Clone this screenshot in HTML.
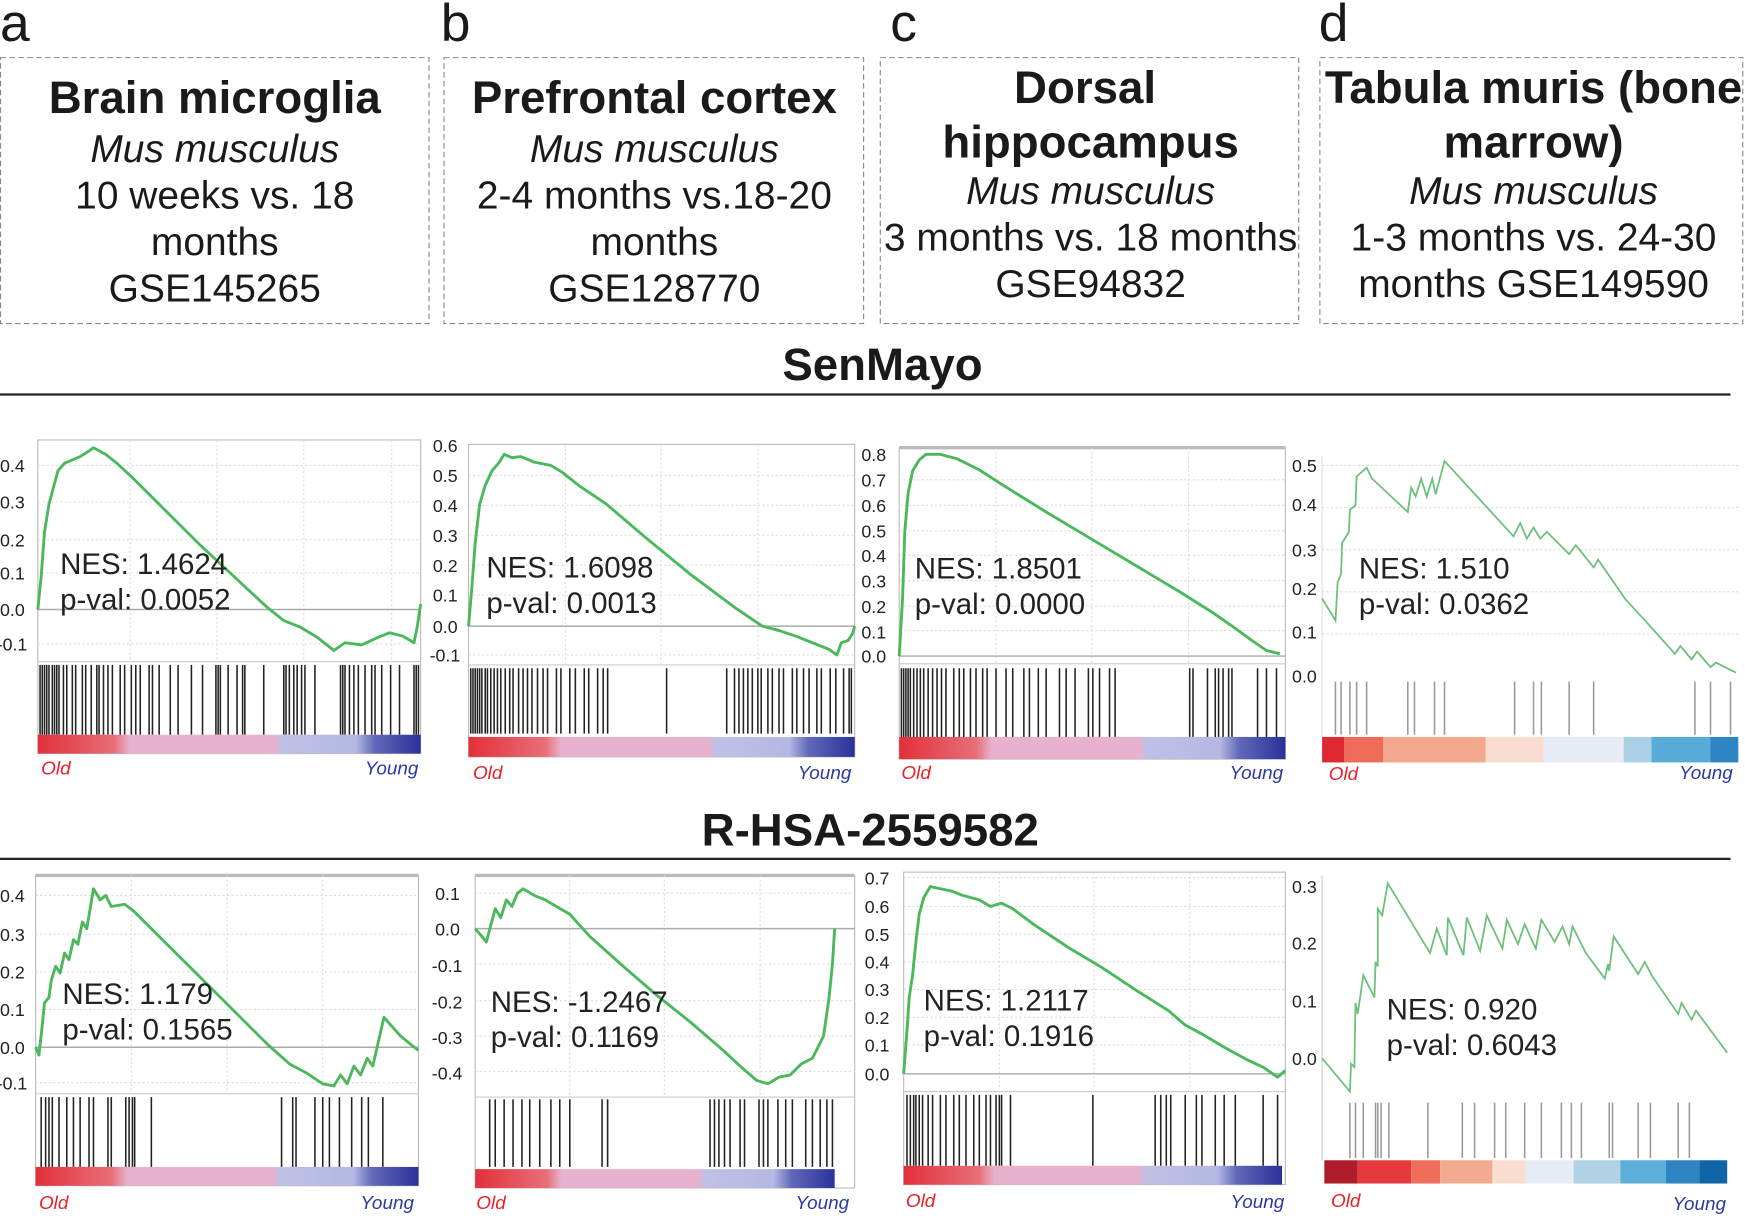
<!DOCTYPE html>
<html><head><meta charset="utf-8"><style>
html,body{margin:0;padding:0;background:#fff;}
svg{display:block;font-family:"Liberation Sans",Arial,sans-serif;}
.t{font-size:41px;font-weight:bold;text-anchor:middle;fill:#1a1a1a}
.i{font-size:35px;font-style:italic;text-anchor:middle;fill:#1a1a1a}
.n{font-size:35px;text-anchor:middle;fill:#1a1a1a}
.tk{font-size:16px;fill:#222}
.ann{font-size:26.5px;fill:#222}
.old{font-size:17px;font-style:italic;fill:#e8202a}
.yg{font-size:17px;font-style:italic;fill:#2a3aa0;text-anchor:end}
.cv{fill:none;stroke:#4cb85c;stroke-width:2.6;stroke-linejoin:round}
.cvd{fill:none;stroke:#6cc17a;stroke-width:1.6}
.fr{fill:none;stroke:#bbb;stroke-width:1}
.grid{stroke:#ddd;stroke-width:1;stroke-dasharray:2 2}
.z{stroke:#aaa;stroke-width:1.3}
.gb line{stroke:#222;stroke-width:1.4}
.gd line{stroke:#999;stroke-width:1.4}
</style></head><body>
<svg width="1745" height="1219" viewBox="0 0 1568 1100" preserveAspectRatio="none" xmlns="http://www.w3.org/2000/svg">
<defs>
<linearGradient id="g1" x1="0" x2="1">
<stop offset="0" stop-color="#e2303a"/><stop offset="0.2" stop-color="#e86f78"/><stop offset="0.24" stop-color="#e8b2cf"/><stop offset="0.62" stop-color="#e8b2cf"/><stop offset="0.64" stop-color="#bfc1e6"/><stop offset="0.83" stop-color="#b4b8e2"/><stop offset="0.88" stop-color="#6268b8"/><stop offset="1" stop-color="#28329a"/>
</linearGradient>
</defs>
<text x="0" y="37" style="font-size:48px" fill="#1a1a1a">a</text>
<text x="396" y="37" style="font-size:48px" fill="#1a1a1a">b</text>
<text x="800" y="37" style="font-size:48px" fill="#1a1a1a">c</text>
<text x="1185" y="37" style="font-size:48px" fill="#1a1a1a">d</text>
<g fill="none" stroke="#888" stroke-width="1" stroke-dasharray="5 3">
<rect x="0.5" y="52" width="385" height="240"/>
<rect x="399" y="52" width="377" height="240"/>
<rect x="791" y="52" width="376" height="240"/>
<rect x="1186" y="52" width="380" height="240"/>
</g>
<text class="t" x="193" y="102">Brain microglia</text>
<text class="i" x="193" y="146">Mus musculus</text>
<text class="n" x="193" y="188">10 weeks vs. 18</text>
<text class="n" x="193" y="230">months</text>
<text class="n" x="193" y="272">GSE145265</text>
<text class="t" x="588" y="102">Prefrontal cortex</text>
<text class="i" x="588" y="146">Mus musculus</text>
<text class="n" x="588" y="188">2-4 months vs.18-20</text>
<text class="n" x="588" y="230">months</text>
<text class="n" x="588" y="272">GSE128770</text>
<text class="t" x="975" y="93">Dorsal</text>
<text class="t" x="980" y="142">hippocampus</text>
<text class="i" x="980" y="184">Mus musculus</text>
<text class="n" x="980" y="226">3 months vs. 18 months</text>
<text class="n" x="980" y="268">GSE94832</text>
<text class="t" x="1378" y="93">Tabula muris (bone</text>
<text class="t" x="1378" y="142">marrow)</text>
<text class="i" x="1378" y="184">Mus musculus</text>
<text class="n" x="1378" y="226">1-3 months vs. 24-30</text>
<text class="n" x="1378" y="268">months GSE149590</text>

<text class="t" x="793" y="343">SenMayo</text>
<line x1="0" y1="356" x2="1555" y2="356" stroke="#222" stroke-width="2"/>
<text class="t" x="782" y="763">R-HSA-2559582</text>
<line x1="0" y1="775" x2="1555" y2="775" stroke="#222" stroke-width="2"/>

<!-- Row1 a -->
<g>
<rect class="fr" x="34" y="397" width="344" height="283"/>
<g class="grid"><line x1="34" y1="420" x2="378" y2="420"/><line x1="34" y1="453" x2="378" y2="453"/><line x1="34" y1="487" x2="378" y2="487"/><line x1="34" y1="517" x2="378" y2="517"/><line x1="34" y1="581" x2="378" y2="581"/><line x1="117" y1="397" x2="117" y2="597"/><line x1="195" y1="397" x2="195" y2="597"/><line x1="273" y1="397" x2="273" y2="597"/><line x1="352" y1="397" x2="352" y2="597"/></g>
<line class="z" x1="34" y1="550" x2="378" y2="550"/>
<line x1="34" y1="597" x2="378" y2="597" stroke="#ccc"/>
<g class="tk"><text x="0" y="426">0.4</text><text x="0" y="459">0.3</text><text x="0" y="493">0.2</text><text x="0" y="523">0.1</text><text x="0" y="556">0.0</text><text x="-3" y="587">-0.1</text></g>
<polyline class="cv" points="34,550 37,520 40,480 44,455 48,440 52,425 58,418 65,415 72,412 80,407 84,404 95,410 105,418 120,432 150,462 180,492 210,520 240,548 255,560 270,566 285,575 300,587 310,580 325,582 340,575 350,571 362,574 372,580 375,565 378,545"/>
<g class="gb">
<line x1="36" y1="600" x2="36" y2="663"/><line x1="38" y1="600" x2="38" y2="663"/><line x1="40" y1="600" x2="40" y2="663"/><line x1="42" y1="600" x2="42" y2="663"/><line x1="44" y1="600" x2="44" y2="663"/><line x1="47" y1="600" x2="47" y2="663"/><line x1="49" y1="600" x2="49" y2="663"/><line x1="51" y1="600" x2="51" y2="663"/><line x1="53" y1="600" x2="53" y2="663"/><line x1="57" y1="600" x2="57" y2="663"/><line x1="60" y1="600" x2="60" y2="663"/><line x1="65" y1="600" x2="65" y2="663"/><line x1="68" y1="600" x2="68" y2="663"/><line x1="74" y1="600" x2="74" y2="663"/><line x1="77" y1="600" x2="77" y2="663"/><line x1="82" y1="600" x2="82" y2="663"/><line x1="87" y1="600" x2="87" y2="663"/><line x1="89" y1="600" x2="89" y2="663"/><line x1="93" y1="600" x2="93" y2="663"/><line x1="97" y1="600" x2="97" y2="663"/><line x1="101" y1="600" x2="101" y2="663"/><line x1="108" y1="600" x2="108" y2="663"/><line x1="112" y1="600" x2="112" y2="663"/><line x1="118" y1="600" x2="118" y2="663"/><line x1="122" y1="600" x2="122" y2="663"/><line x1="126" y1="600" x2="126" y2="663"/><line x1="134" y1="600" x2="134" y2="663"/><line x1="137" y1="600" x2="137" y2="663"/><line x1="143" y1="600" x2="143" y2="663"/><line x1="153" y1="600" x2="153" y2="663"/><line x1="160" y1="600" x2="160" y2="663"/><line x1="172" y1="600" x2="172" y2="663"/><line x1="182" y1="600" x2="182" y2="663"/><line x1="194" y1="600" x2="194" y2="663"/><line x1="196" y1="600" x2="196" y2="663"/><line x1="198" y1="600" x2="198" y2="663"/><line x1="205" y1="600" x2="205" y2="663"/><line x1="213" y1="600" x2="213" y2="663"/><line x1="218" y1="600" x2="218" y2="663"/><line x1="220" y1="600" x2="220" y2="663"/><line x1="237" y1="600" x2="237" y2="663"/><line x1="255" y1="600" x2="255" y2="663"/><line x1="257" y1="600" x2="257" y2="663"/><line x1="260" y1="600" x2="260" y2="663"/><line x1="264" y1="600" x2="264" y2="663"/><line x1="267" y1="600" x2="267" y2="663"/><line x1="271" y1="600" x2="271" y2="663"/><line x1="274" y1="600" x2="274" y2="663"/><line x1="283" y1="600" x2="283" y2="663"/><line x1="306" y1="600" x2="306" y2="663"/><line x1="308" y1="600" x2="308" y2="663"/><line x1="310" y1="600" x2="310" y2="663"/><line x1="314" y1="600" x2="314" y2="663"/><line x1="318" y1="600" x2="318" y2="663"/><line x1="322" y1="600" x2="322" y2="663"/><line x1="328" y1="600" x2="328" y2="663"/><line x1="334" y1="600" x2="334" y2="663"/><line x1="337" y1="600" x2="337" y2="663"/><line x1="343" y1="600" x2="343" y2="663"/><line x1="351" y1="600" x2="351" y2="663"/><line x1="359" y1="600" x2="359" y2="663"/><line x1="372" y1="600" x2="372" y2="663"/><line x1="374" y1="600" x2="374" y2="663"/><line x1="376" y1="600" x2="376" y2="663"/>
</g>
<rect x="34" y="663" width="344" height="17" fill="url(#g1)"/>
<text class="old" x="37" y="699">Old</text><text class="yg" x="376" y="699">Young</text>
<text class="ann" x="54" y="518">NES: 1.4624</text><text class="ann" x="54" y="550">p-val: 0.0052</text>
</g>

<!-- Row1 b -->
<g>
<rect class="fr" x="421" y="401" width="347" height="282"/>
<g class="grid"><line x1="421" y1="429" x2="768" y2="429"/><line x1="421" y1="456" x2="768" y2="456"/><line x1="421" y1="483" x2="768" y2="483"/><line x1="421" y1="510" x2="768" y2="510"/><line x1="421" y1="537" x2="768" y2="537"/><line x1="421" y1="591" x2="768" y2="591"/><line x1="508" y1="401" x2="508" y2="600"/><line x1="594" y1="401" x2="594" y2="600"/><line x1="681" y1="401" x2="681" y2="600"/></g>
<line class="z" x1="421" y1="565" x2="768" y2="565"/>
<line x1="421" y1="600" x2="768" y2="600" stroke="#ccc"/>
<g class="tk"><text x="389" y="408">0.6</text><text x="389" y="435">0.5</text><text x="389" y="462">0.4</text><text x="389" y="489">0.3</text><text x="389" y="516">0.2</text><text x="389" y="543">0.1</text><text x="389" y="571">0.0</text><text x="386" y="597">-0.1</text></g>
<polyline class="cv" points="421,565 424,530 427,490 431,455 436,438 442,425 448,418 453,410 460,413 468,412 480,417 495,420 505,426 520,438 545,455 580,485 620,518 660,548 685,565 700,569 715,574 730,580 745,586 752,591 756,580 762,578 766,572 768,565"/>
<g class="gb">
<line x1="423" y1="603" x2="423" y2="662"/><line x1="425" y1="603" x2="425" y2="662"/><line x1="427" y1="603" x2="427" y2="662"/><line x1="429" y1="603" x2="429" y2="662"/><line x1="431" y1="603" x2="431" y2="662"/><line x1="433" y1="603" x2="433" y2="662"/><line x1="436" y1="603" x2="436" y2="662"/><line x1="438" y1="603" x2="438" y2="662"/><line x1="441" y1="603" x2="441" y2="662"/><line x1="444" y1="603" x2="444" y2="662"/><line x1="447" y1="603" x2="447" y2="662"/><line x1="450" y1="603" x2="450" y2="662"/><line x1="454" y1="603" x2="454" y2="662"/><line x1="458" y1="603" x2="458" y2="662"/><line x1="461" y1="603" x2="461" y2="662"/><line x1="466" y1="603" x2="466" y2="662"/><line x1="470" y1="603" x2="470" y2="662"/><line x1="474" y1="603" x2="474" y2="662"/><line x1="478" y1="603" x2="478" y2="662"/><line x1="483" y1="603" x2="483" y2="662"/><line x1="488" y1="603" x2="488" y2="662"/><line x1="492" y1="603" x2="492" y2="662"/><line x1="500" y1="603" x2="500" y2="662"/><line x1="504" y1="603" x2="504" y2="662"/><line x1="512" y1="603" x2="512" y2="662"/><line x1="517" y1="603" x2="517" y2="662"/><line x1="525" y1="603" x2="525" y2="662"/><line x1="529" y1="603" x2="529" y2="662"/><line x1="537" y1="603" x2="537" y2="662"/><line x1="542" y1="603" x2="542" y2="662"/><line x1="546" y1="603" x2="546" y2="662"/><line x1="599" y1="603" x2="599" y2="662"/><line x1="653" y1="603" x2="653" y2="662"/><line x1="660" y1="603" x2="660" y2="662"/><line x1="664" y1="603" x2="664" y2="662"/><line x1="668" y1="603" x2="668" y2="662"/><line x1="672" y1="603" x2="672" y2="662"/><line x1="676" y1="603" x2="676" y2="662"/><line x1="681" y1="603" x2="681" y2="662"/><line x1="684" y1="603" x2="684" y2="662"/><line x1="690" y1="603" x2="690" y2="662"/><line x1="694" y1="603" x2="694" y2="662"/><line x1="700" y1="603" x2="700" y2="662"/><line x1="704" y1="603" x2="704" y2="662"/><line x1="712" y1="603" x2="712" y2="662"/><line x1="716" y1="603" x2="716" y2="662"/><line x1="722" y1="603" x2="722" y2="662"/><line x1="727" y1="603" x2="727" y2="662"/><line x1="734" y1="603" x2="734" y2="662"/><line x1="738" y1="603" x2="738" y2="662"/><line x1="746" y1="603" x2="746" y2="662"/><line x1="751" y1="603" x2="751" y2="662"/><line x1="758" y1="603" x2="758" y2="662"/><line x1="763" y1="603" x2="763" y2="662"/><line x1="765" y1="603" x2="765" y2="662"/>
</g>
<rect x="421" y="665" width="347" height="18" fill="url(#g1)"/>
<text class="old" x="425" y="703">Old</text><text class="yg" x="765" y="703">Young</text>
<text class="ann" x="437" y="521">NES: 1.6098</text><text class="ann" x="437" y="553">p-val: 0.0013</text>
</g>

<!-- Row1 c -->
<g>
<rect class="fr" x="808" y="404" width="347" height="281"/>
<line x1="808" y1="404" x2="1155" y2="404" stroke="#bbb" stroke-width="3"/>
<g class="grid"><line x1="808" y1="433" x2="1155" y2="433"/><line x1="808" y1="456" x2="1155" y2="456"/><line x1="808" y1="479" x2="1155" y2="479"/><line x1="808" y1="501" x2="1155" y2="501"/><line x1="808" y1="524" x2="1155" y2="524"/><line x1="808" y1="547" x2="1155" y2="547"/><line x1="808" y1="569" x2="1155" y2="569"/><line x1="895" y1="404" x2="895" y2="598"/><line x1="981" y1="404" x2="981" y2="598"/><line x1="1068" y1="404" x2="1068" y2="598"/></g>
<line class="z" x1="808" y1="592" x2="1155" y2="592"/>
<line x1="808" y1="599" x2="1155" y2="599" stroke="#ccc"/>
<g class="tk"><text x="774" y="416">0.8</text><text x="774" y="439">0.7</text><text x="774" y="462">0.6</text><text x="774" y="485">0.5</text><text x="774" y="507">0.4</text><text x="774" y="530">0.3</text><text x="774" y="553">0.2</text><text x="774" y="576">0.1</text><text x="774" y="598">0.0</text></g>
<polyline class="cv" points="808,592 811,540 813,480 816,445 820,425 826,415 832,410 845,410 860,414 880,424 900,437 940,462 980,486 1020,510 1060,534 1090,553 1110,567 1125,578 1138,587 1150,590"/>
<g class="gb">
<line x1="810" y1="603" x2="810" y2="665"/><line x1="812" y1="603" x2="812" y2="665"/><line x1="814" y1="603" x2="814" y2="665"/><line x1="816" y1="603" x2="816" y2="665"/><line x1="818" y1="603" x2="818" y2="665"/><line x1="821" y1="603" x2="821" y2="665"/><line x1="824" y1="603" x2="824" y2="665"/><line x1="827" y1="603" x2="827" y2="665"/><line x1="830" y1="603" x2="830" y2="665"/><line x1="834" y1="603" x2="834" y2="665"/><line x1="838" y1="603" x2="838" y2="665"/><line x1="842" y1="603" x2="842" y2="665"/><line x1="846" y1="603" x2="846" y2="665"/><line x1="850" y1="603" x2="850" y2="665"/><line x1="857" y1="603" x2="857" y2="665"/><line x1="862" y1="603" x2="862" y2="665"/><line x1="866" y1="603" x2="866" y2="665"/><line x1="872" y1="603" x2="872" y2="665"/><line x1="877" y1="603" x2="877" y2="665"/><line x1="883" y1="603" x2="883" y2="665"/><line x1="887" y1="603" x2="887" y2="665"/><line x1="895" y1="603" x2="895" y2="665"/><line x1="904" y1="603" x2="904" y2="665"/><line x1="910" y1="603" x2="910" y2="665"/><line x1="920" y1="603" x2="920" y2="665"/><line x1="925" y1="603" x2="925" y2="665"/><line x1="933" y1="603" x2="933" y2="665"/><line x1="940" y1="603" x2="940" y2="665"/><line x1="952" y1="603" x2="952" y2="665"/><line x1="958" y1="603" x2="958" y2="665"/><line x1="966" y1="603" x2="966" y2="665"/><line x1="978" y1="603" x2="978" y2="665"/><line x1="982" y1="603" x2="982" y2="665"/><line x1="988" y1="603" x2="988" y2="665"/><line x1="997" y1="603" x2="997" y2="665"/><line x1="1002" y1="603" x2="1002" y2="665"/><line x1="1069" y1="603" x2="1069" y2="665"/><line x1="1072" y1="603" x2="1072" y2="665"/><line x1="1085" y1="603" x2="1085" y2="665"/><line x1="1092" y1="603" x2="1092" y2="665"/><line x1="1095" y1="603" x2="1095" y2="665"/><line x1="1099" y1="603" x2="1099" y2="665"/><line x1="1104" y1="603" x2="1104" y2="665"/><line x1="1107" y1="603" x2="1107" y2="665"/><line x1="1130" y1="603" x2="1130" y2="665"/><line x1="1138" y1="603" x2="1138" y2="665"/><line x1="1147" y1="603" x2="1147" y2="665"/>
</g>
<rect x="808" y="665" width="347" height="20" fill="url(#g1)"/>
<text class="old" x="810" y="703">Old</text><text class="yg" x="1153" y="703">Young</text>
<text class="ann" x="822" y="522">NES: 1.8501</text><text class="ann" x="822" y="554">p-val: 0.0000</text>
</g>

<!-- Row1 d -->
<g>
<g class="grid"><line x1="1188" y1="420" x2="1562" y2="420"/><line x1="1188" y1="458" x2="1562" y2="458"/><line x1="1188" y1="496" x2="1562" y2="496"/><line x1="1188" y1="534" x2="1562" y2="534"/><line x1="1188" y1="572" x2="1562" y2="572"/></g>
<line x1="1188" y1="412" x2="1188" y2="665" stroke="#ddd"/>
<g class="tk"><text x="1161" y="426">0.5</text><text x="1161" y="461">0.4</text><text x="1161" y="502">0.3</text><text x="1161" y="537">0.2</text><text x="1161" y="576">0.1</text><text x="1161" y="616">0.0</text></g>
<polyline class="cvd" points="1188,540 1200,560 1202,525 1205,518 1206,490 1212,480 1213,460 1218,456 1219,430 1228,422 1233,432 1265,462 1268,440 1272,448 1277,432 1282,448 1287,432 1290,446 1298,416 1360,484 1366,472 1372,486 1378,476 1384,486 1390,480 1410,500 1416,492 1432,512 1436,505 1460,540 1480,562 1505,590 1510,583 1520,595 1525,588 1537,602 1542,598 1560,607"/>
<g class="gd">
<line x1="1200" y1="615" x2="1200" y2="663"/><line x1="1205" y1="615" x2="1205" y2="663"/><line x1="1213" y1="615" x2="1213" y2="663"/><line x1="1219" y1="615" x2="1219" y2="663"/><line x1="1228" y1="615" x2="1228" y2="663"/><line x1="1265" y1="615" x2="1265" y2="663"/><line x1="1271" y1="615" x2="1271" y2="663"/><line x1="1289" y1="615" x2="1289" y2="663"/><line x1="1298" y1="615" x2="1298" y2="663"/><line x1="1361" y1="615" x2="1361" y2="663"/><line x1="1378" y1="615" x2="1378" y2="663"/><line x1="1385" y1="615" x2="1385" y2="663"/><line x1="1410" y1="615" x2="1410" y2="663"/><line x1="1432" y1="615" x2="1432" y2="663"/><line x1="1523" y1="615" x2="1523" y2="663"/><line x1="1537" y1="615" x2="1537" y2="663"/><line x1="1555" y1="615" x2="1555" y2="663"/>
</g>
<rect x="1188" y="665" width="20" height="23" fill="#dc2a30"/><rect x="1208" y="665" width="35" height="23" fill="#ee6b5a"/><rect x="1243" y="665" width="92" height="23" fill="#f1a88e"/><rect x="1335" y="665" width="52" height="23" fill="#f8ddd0"/><rect x="1387" y="665" width="72" height="23" fill="#e6ecf5"/><rect x="1459" y="665" width="25" height="23" fill="#a9d0e4"/><rect x="1484" y="665" width="53" height="23" fill="#5aacd8"/><rect x="1537" y="665" width="25" height="23" fill="#2d86c3"/>
<text class="old" x="1194" y="704">Old</text><text class="yg" x="1557" y="703">Young</text>
<text class="ann" x="1221" y="522">NES: 1.510</text><text class="ann" x="1221" y="554">p-val: 0.0362</text>
</g>

<!-- Row2 a -->
<g>
<rect class="fr" x="32" y="790" width="344" height="280"/>
<line x1="32" y1="790" x2="376" y2="790" stroke="#bbb" stroke-width="3"/>
<g class="grid"><line x1="32" y1="808" x2="376" y2="808"/><line x1="32" y1="843" x2="376" y2="843"/><line x1="32" y1="877" x2="376" y2="877"/><line x1="32" y1="911" x2="376" y2="911"/><line x1="32" y1="977" x2="376" y2="977"/><line x1="118" y1="790" x2="118" y2="985"/><line x1="204" y1="790" x2="204" y2="985"/><line x1="290" y1="790" x2="290" y2="985"/></g>
<line class="z" x1="32" y1="945" x2="376" y2="945"/>
<line x1="32" y1="987" x2="376" y2="987" stroke="#ccc"/>
<g class="tk"><text x="0" y="814">0.4</text><text x="0" y="849">0.3</text><text x="0" y="883">0.2</text><text x="0" y="917">0.1</text><text x="0" y="951">0.0</text><text x="-3" y="983">-0.1</text></g>
<polyline class="cv" points="32,945 35,952 38,925 40,905 44,900 46,885 50,872 54,878 58,860 62,866 66,848 70,852 74,832 78,838 84,802 90,812 95,808 100,818 112,816 120,822 150,852 180,882 210,912 240,942 260,960 275,968 290,978 300,980 306,970 312,978 318,962 324,970 330,955 335,962 345,918 360,935 376,948"/>
<g class="gb">
<line x1="37" y1="990" x2="37" y2="1053"/><line x1="41" y1="990" x2="41" y2="1053"/><line x1="44" y1="990" x2="44" y2="1053"/><line x1="47" y1="990" x2="47" y2="1053"/><line x1="53" y1="990" x2="53" y2="1053"/><line x1="60" y1="990" x2="60" y2="1053"/><line x1="66" y1="990" x2="66" y2="1053"/><line x1="72" y1="990" x2="72" y2="1053"/><line x1="80" y1="990" x2="80" y2="1053"/><line x1="84" y1="990" x2="84" y2="1053"/><line x1="97" y1="990" x2="97" y2="1053"/><line x1="100" y1="990" x2="100" y2="1053"/><line x1="113" y1="990" x2="113" y2="1053"/><line x1="116" y1="990" x2="116" y2="1053"/><line x1="119" y1="990" x2="119" y2="1053"/><line x1="121" y1="990" x2="121" y2="1053"/><line x1="136" y1="990" x2="136" y2="1053"/><line x1="253" y1="990" x2="253" y2="1053"/><line x1="263" y1="990" x2="263" y2="1053"/><line x1="266" y1="990" x2="266" y2="1053"/><line x1="283" y1="990" x2="283" y2="1053"/><line x1="290" y1="990" x2="290" y2="1053"/><line x1="296" y1="990" x2="296" y2="1053"/><line x1="305" y1="990" x2="305" y2="1053"/><line x1="316" y1="990" x2="316" y2="1053"/><line x1="325" y1="990" x2="325" y2="1053"/><line x1="331" y1="990" x2="331" y2="1053"/><line x1="344" y1="990" x2="344" y2="1053"/>
</g>
<rect x="32" y="1053" width="344" height="17" fill="url(#g1)"/>
<text class="old" x="35" y="1091">Old</text><text class="yg" x="372" y="1091">Young</text>
<text class="ann" x="56" y="906">NES: 1.179</text><text class="ann" x="56" y="938">p-val: 0.1565</text>
</g>

<!-- Row2 b -->
<g>
<rect class="fr" x="427" y="790" width="341" height="282"/>
<line x1="427" y1="790" x2="768" y2="790" stroke="#bbb" stroke-width="3"/>
<g class="grid"><line x1="427" y1="806" x2="768" y2="806"/><line x1="427" y1="870" x2="768" y2="870"/><line x1="427" y1="903" x2="768" y2="903"/><line x1="427" y1="935" x2="768" y2="935"/><line x1="427" y1="967" x2="768" y2="967"/><line x1="512" y1="790" x2="512" y2="988"/><line x1="597" y1="790" x2="597" y2="988"/><line x1="683" y1="790" x2="683" y2="988"/></g>
<line class="z" x1="427" y1="838" x2="768" y2="838"/>
<line x1="427" y1="990" x2="768" y2="990" stroke="#ccc"/>
<g class="tk"><text x="391" y="812">0.1</text><text x="391" y="844">0.0</text><text x="388" y="877">-0.1</text><text x="388" y="910">-0.2</text><text x="388" y="942">-0.3</text><text x="388" y="974">-0.4</text></g>
<polyline class="cv" points="427,838 433,845 437,850 441,835 445,820 450,828 455,812 460,818 465,806 470,802 480,808 490,812 500,818 512,825 530,845 560,872 590,898 620,922 650,948 665,962 680,975 690,978 700,972 710,970 720,960 730,955 740,935 745,900 748,870 750,838"/>
<g class="gb">
<line x1="440" y1="992" x2="440" y2="1053"/><line x1="445" y1="992" x2="445" y2="1053"/><line x1="453" y1="992" x2="453" y2="1053"/><line x1="461" y1="992" x2="461" y2="1053"/><line x1="469" y1="992" x2="469" y2="1053"/><line x1="476" y1="992" x2="476" y2="1053"/><line x1="485" y1="992" x2="485" y2="1053"/><line x1="495" y1="992" x2="495" y2="1053"/><line x1="503" y1="992" x2="503" y2="1053"/><line x1="512" y1="992" x2="512" y2="1053"/><line x1="541" y1="992" x2="541" y2="1053"/><line x1="546" y1="992" x2="546" y2="1053"/><line x1="638" y1="992" x2="638" y2="1053"/><line x1="642" y1="992" x2="642" y2="1053"/><line x1="646" y1="992" x2="646" y2="1053"/><line x1="651" y1="992" x2="651" y2="1053"/><line x1="656" y1="992" x2="656" y2="1053"/><line x1="665" y1="992" x2="665" y2="1053"/><line x1="669" y1="992" x2="669" y2="1053"/><line x1="682" y1="992" x2="682" y2="1053"/><line x1="686" y1="992" x2="686" y2="1053"/><line x1="690" y1="992" x2="690" y2="1053"/><line x1="699" y1="992" x2="699" y2="1053"/><line x1="706" y1="992" x2="706" y2="1053"/><line x1="712" y1="992" x2="712" y2="1053"/><line x1="724" y1="992" x2="724" y2="1053"/><line x1="730" y1="992" x2="730" y2="1053"/><line x1="737" y1="992" x2="737" y2="1053"/><line x1="743" y1="992" x2="743" y2="1053"/><line x1="748" y1="992" x2="748" y2="1053"/>
</g>
<rect x="427" y="1055" width="323" height="17" fill="url(#g1)"/>
<text class="old" x="428" y="1091">Old</text><text class="yg" x="763" y="1091">Young</text>
<text class="ann" x="441" y="913">NES: -1.2467</text><text class="ann" x="441" y="945">p-val: 0.1169</text>
</g>

<!-- Row2 c -->
<g>
<rect class="fr" x="812" y="787" width="343" height="282"/>
<g class="grid"><line x1="812" y1="792" x2="1155" y2="792"/><line x1="812" y1="818" x2="1155" y2="818"/><line x1="812" y1="843" x2="1155" y2="843"/><line x1="812" y1="868" x2="1155" y2="868"/><line x1="812" y1="893" x2="1155" y2="893"/><line x1="812" y1="918" x2="1155" y2="918"/><line x1="812" y1="943" x2="1155" y2="943"/><line x1="898" y1="787" x2="898" y2="983"/><line x1="983" y1="787" x2="983" y2="983"/><line x1="1069" y1="787" x2="1069" y2="983"/></g>
<line class="z" x1="812" y1="969" x2="1155" y2="969"/>
<line x1="812" y1="985" x2="1155" y2="985" stroke="#ccc"/>
<g class="tk"><text x="777" y="798">0.7</text><text x="777" y="824">0.6</text><text x="777" y="849">0.5</text><text x="777" y="874">0.4</text><text x="777" y="899">0.3</text><text x="777" y="924">0.2</text><text x="777" y="949">0.1</text><text x="777" y="975">0.0</text></g>
<polyline class="cv" points="812,969 815,930 817,900 820,880 823,850 826,825 830,810 836,800 845,802 855,804 865,808 880,812 890,818 900,815 910,820 930,835 960,855 990,873 1020,893 1050,912 1065,925 1080,933 1100,945 1120,956 1135,963 1148,972 1155,966"/>
<g class="gb">
<line x1="815" y1="988" x2="815" y2="1052"/><line x1="818" y1="988" x2="818" y2="1052"/><line x1="821" y1="988" x2="821" y2="1052"/><line x1="823" y1="988" x2="823" y2="1052"/><line x1="826" y1="988" x2="826" y2="1052"/><line x1="829" y1="988" x2="829" y2="1052"/><line x1="834" y1="988" x2="834" y2="1052"/><line x1="838" y1="988" x2="838" y2="1052"/><line x1="845" y1="988" x2="845" y2="1052"/><line x1="850" y1="988" x2="850" y2="1052"/><line x1="857" y1="988" x2="857" y2="1052"/><line x1="862" y1="988" x2="862" y2="1052"/><line x1="868" y1="988" x2="868" y2="1052"/><line x1="875" y1="988" x2="875" y2="1052"/><line x1="880" y1="988" x2="880" y2="1052"/><line x1="886" y1="988" x2="886" y2="1052"/><line x1="890" y1="988" x2="890" y2="1052"/><line x1="895" y1="988" x2="895" y2="1052"/><line x1="898" y1="988" x2="898" y2="1052"/><line x1="900" y1="988" x2="900" y2="1052"/><line x1="908" y1="988" x2="908" y2="1052"/><line x1="982" y1="988" x2="982" y2="1052"/><line x1="1038" y1="988" x2="1038" y2="1052"/><line x1="1043" y1="988" x2="1043" y2="1052"/><line x1="1048" y1="988" x2="1048" y2="1052"/><line x1="1052" y1="988" x2="1052" y2="1052"/><line x1="1065" y1="988" x2="1065" y2="1052"/><line x1="1075" y1="988" x2="1075" y2="1052"/><line x1="1080" y1="988" x2="1080" y2="1052"/><line x1="1092" y1="988" x2="1092" y2="1052"/><line x1="1100" y1="988" x2="1100" y2="1052"/><line x1="1110" y1="988" x2="1110" y2="1052"/><line x1="1135" y1="988" x2="1135" y2="1052"/><line x1="1148" y1="988" x2="1148" y2="1052"/>
</g>
<rect x="812" y="1052" width="340" height="17" fill="url(#g1)"/>
<text class="old" x="814" y="1089">Old</text><text class="yg" x="1154" y="1090">Young</text>
<text class="ann" x="830" y="912">NES: 1.2117</text><text class="ann" x="830" y="944">p-val: 0.1916</text>
</g>

<!-- Row2 d -->
<g>
<line x1="1188" y1="790" x2="1188" y2="1047" stroke="#ccc"/>
<g class="tk"><text x="1161" y="806">0.3</text><text x="1161" y="857">0.2</text><text x="1161" y="909">0.1</text><text x="1161" y="961">0.0</text></g>
<polyline class="cvd" points="1188,955 1213,985 1214,960 1217,963 1218,905 1220,915 1225,880 1235,900 1236,868 1238,872 1238,820 1242,826 1247,797 1285,860 1291,838 1300,862 1301,828 1315,862 1318,828 1330,858 1336,826 1350,856 1354,830 1364,852 1370,834 1380,856 1385,830 1397,850 1404,836 1410,852 1413,836 1425,860 1442,883 1445,870 1446,876 1450,845 1472,879 1478,868 1484,880 1508,915 1511,905 1520,920 1524,912 1552,950"/>
<g class="gd">
<line x1="1213" y1="995" x2="1213" y2="1045"/><line x1="1218" y1="995" x2="1218" y2="1045"/><line x1="1225" y1="995" x2="1225" y2="1045"/><line x1="1236" y1="995" x2="1236" y2="1045"/><line x1="1238" y1="995" x2="1238" y2="1045"/><line x1="1241" y1="995" x2="1241" y2="1045"/><line x1="1248" y1="995" x2="1248" y2="1045"/><line x1="1283" y1="995" x2="1283" y2="1045"/><line x1="1314" y1="995" x2="1314" y2="1045"/><line x1="1325" y1="995" x2="1325" y2="1045"/><line x1="1343" y1="995" x2="1343" y2="1045"/><line x1="1353" y1="995" x2="1353" y2="1045"/><line x1="1370" y1="995" x2="1370" y2="1045"/><line x1="1385" y1="995" x2="1385" y2="1045"/><line x1="1403" y1="995" x2="1403" y2="1045"/><line x1="1412" y1="995" x2="1412" y2="1045"/><line x1="1421" y1="995" x2="1421" y2="1045"/><line x1="1446" y1="995" x2="1446" y2="1045"/><line x1="1449" y1="995" x2="1449" y2="1045"/><line x1="1472" y1="995" x2="1472" y2="1045"/><line x1="1483" y1="995" x2="1483" y2="1045"/><line x1="1508" y1="995" x2="1508" y2="1045"/><line x1="1518" y1="995" x2="1518" y2="1045"/>
</g>
<rect x="1190" y="1047" width="30" height="21" fill="#ae1c2c"/><rect x="1220" y="1047" width="48" height="21" fill="#e43a3e"/><rect x="1268" y="1047" width="26" height="21" fill="#ee6e5c"/><rect x="1294" y="1047" width="47" height="21" fill="#f2ab90"/><rect x="1341" y="1047" width="30" height="21" fill="#f8ddd0"/><rect x="1371" y="1047" width="43" height="21" fill="#e6ecf5"/><rect x="1414" y="1047" width="42" height="21" fill="#b0d2e4"/><rect x="1456" y="1047" width="41" height="21" fill="#5daed8"/><rect x="1497" y="1047" width="30" height="21" fill="#2e85c2"/><rect x="1527" y="1047" width="25" height="21" fill="#1064a8"/>
<text class="old" x="1196" y="1089">Old</text><text class="yg" x="1551" y="1092">Young</text>
<text class="ann" x="1246" y="920">NES: 0.920</text><text class="ann" x="1246" y="952">p-val: 0.6043</text>
</g>
</svg>
</body></html>
